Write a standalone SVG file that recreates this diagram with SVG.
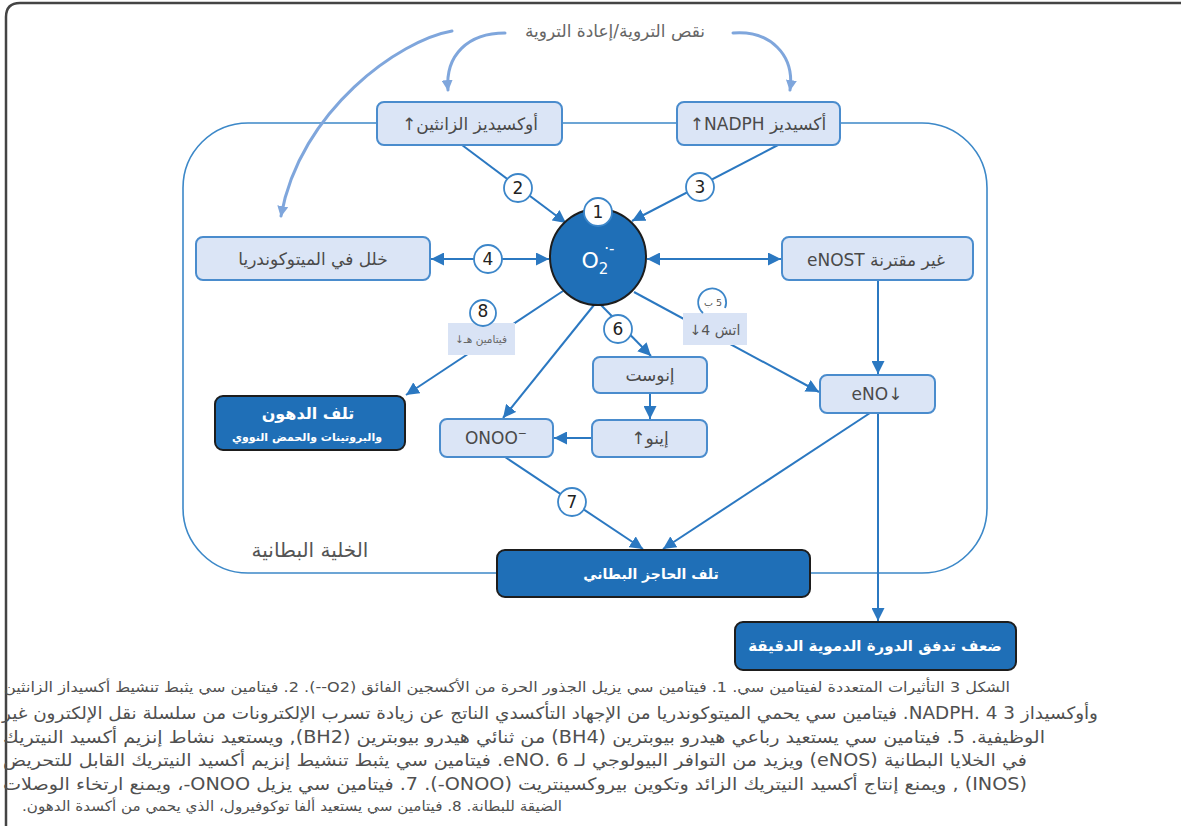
<svg xmlns="http://www.w3.org/2000/svg" width="1181" height="826" viewBox="0 0 1181 826">
<defs>
<style>
.ar{font-family:"DejaVu Sans",sans-serif;}
.lbox{fill:#dbe5f6;stroke:#4a8ccd;stroke-width:2;}
.dbox{fill:#1f6fb7;stroke:#1d1d1d;stroke-width:2;}
.ntx{font-family:"DejaVu Sans",sans-serif;font-size:17px;fill:#4a4a4a;text-anchor:middle;}
.wtx{font-family:"DejaVu Sans",sans-serif;font-weight:bold;fill:#ffffff;text-anchor:middle;}
.num{fill:#ffffff;stroke:#3c86c9;stroke-width:1.8;}
.ntxt{font-family:"DejaVu Sans",sans-serif;font-size:17px;fill:#222;text-anchor:middle;}
.con{stroke:#2b78c1;stroke-width:2;fill:none;}
.cap{font-family:"DejaVu Sans",sans-serif;fill:#505050;text-anchor:middle;}
.tag{fill:#d9e3f5;}
.curve{stroke:#7fa6dc;stroke-width:3;fill:none;stroke-linecap:round;}
</style>
<marker id="ah" viewBox="0 0 10 10" refX="10" refY="5" markerWidth="13" markerHeight="13" markerUnits="userSpaceOnUse" orient="auto-start-reverse">
<path d="M0,0 L10,5 L0,10 z" fill="#2b78c1"/>
</marker>
<marker id="ahl" viewBox="0 0 10 10" refX="9" refY="5" markerWidth="11" markerHeight="11" markerUnits="userSpaceOnUse" orient="auto">
<path d="M0,0 L10,5 L0,10 z" fill="#7fa6dc"/>
</marker>
</defs>
<rect x="0" y="0" width="1181" height="826" fill="#ffffff"/>
<path d="M1181,3 H20 Q6,3 6,17 V826" fill="none" stroke="#444" stroke-width="2.5"/>

<!-- cell boundary -->
<rect x="183" y="123" width="804" height="450" rx="65" fill="none" stroke="#3c88c8" stroke-width="1.6"/>
<text class="ar" x="310" y="557" font-size="20" fill="#555" text-anchor="middle" direction="rtl">الخلية البطانية</text>

<!-- top label and curves -->
<text class="ar" x="615" y="37" font-size="17" fill="#666" text-anchor="middle" direction="rtl">نقص التروية/إعادة التروية</text>
<g id="curves">
<path class="curve" d="M452,31 C400,40 300,110 281,216" marker-end="url(#ahl)"/>
<path class="curve" d="M505,33 C468,33 445,55 448,90" marker-end="url(#ahl)"/>
<path class="curve" d="M733,33 C770,30 795,55 790,90" marker-end="url(#ahl)"/>
</g>

<!-- connectors -->
<g id="connectors">
<line class="con" x1="462" y1="145" x2="566" y2="223" marker-end="url(#ah)"/>
<line class="con" x1="778" y1="145" x2="632" y2="221" marker-end="url(#ah)"/>
<line class="con" x1="431" y1="259" x2="549" y2="259" marker-start="url(#ah)" marker-end="url(#ah)"/>
<line class="con" x1="647" y1="259" x2="781" y2="259" marker-start="url(#ah)" marker-end="url(#ah)"/>
<line class="con" x1="878" y1="280" x2="878" y2="374" marker-end="url(#ah)"/>
<line class="con" x1="634" y1="292" x2="819" y2="392" marker-end="url(#ah)"/>
<line class="con" x1="563" y1="291" x2="406" y2="395" marker-end="url(#ah)"/>
<line class="con" x1="600" y1="304" x2="651" y2="356" marker-end="url(#ah)"/>
<line class="con" x1="594" y1="305" x2="503" y2="418" marker-end="url(#ah)"/>
<line class="con" x1="650" y1="393" x2="650" y2="419" marker-end="url(#ah)"/>
<line class="con" x1="592" y1="438" x2="554" y2="438" marker-end="url(#ah)"/>
<line class="con" x1="505" y1="457" x2="643" y2="549" marker-end="url(#ah)"/>
<line class="con" x1="870" y1="413" x2="663" y2="549" marker-end="url(#ah)"/>
<line class="con" x1="878" y1="413" x2="878" y2="621" marker-end="url(#ah)"/>
</g>

<!-- nodes -->
<g id="n-xanthine">
<rect class="lbox" x="377" y="102" width="185" height="43" rx="7"/>
<text class="ntx" x="470" y="130" direction="rtl">أوكسيديز الزانثين↑</text>
</g>
<g id="n-nadph">
<rect class="lbox" x="677" y="102" width="163" height="43" rx="7"/>
<text class="ntx" x="758" y="130" direction="rtl">أكسيديز NADPH↑</text>
</g>
<g id="n-mito">
<rect class="lbox" x="196" y="237" width="234" height="43" rx="7"/>
<text class="ntx" x="313" y="265" direction="rtl">خلل في الميتوكوندريا</text>
</g>
<g id="n-enost">
<rect class="lbox" x="782" y="237" width="191" height="43" rx="7"/>
<text class="ntx" x="876" y="266" font-size="19" direction="rtl">غير مقترنة eNOST</text>
</g>
<g id="n-eno">
<rect class="lbox" x="820" y="375" width="115" height="38" rx="7"/>
<text class="ntx" x="877" y="400">eNO↓</text>
</g>
<g id="n-inos">
<rect class="lbox" x="593" y="357" width="114" height="36" rx="7"/>
<text class="ntx" x="650" y="381" direction="rtl">إنوست</text>
</g>
<g id="n-ino">
<rect class="lbox" x="592" y="420" width="115" height="37" rx="7"/>
<text class="ntx" x="650" y="444" direction="rtl">إينو↑</text>
</g>
<g id="n-onoo">
<rect class="lbox" x="440" y="419" width="113" height="38" rx="7"/>
<text class="ntx" x="496" y="444" fill="#222">ONOO<tspan font-size="11" dy="-7">−</tspan></text>
</g>
<g id="n-lipid">
<rect class="dbox" x="215" y="396" width="190" height="54" rx="8"/>
<text class="wtx" x="308" y="419" font-size="16" direction="rtl">تلف الدهون</text>
<text class="wtx" x="307" y="441" font-size="11" direction="rtl">والبروتينات والحمض النووي</text>
</g>
<g id="n-barrier">
<rect class="dbox" x="497" y="550" width="313" height="47" rx="8"/>
<text class="wtx" x="651" y="579" font-size="14" direction="rtl">تلف الحاجز البطاني</text>
</g>
<g id="n-micro">
<rect class="dbox" x="735" y="622" width="281" height="48" rx="8"/>
<text class="wtx" x="875" y="651" font-size="15" direction="rtl">ضعف تدفق الدورة الدموية الدقيقة</text>
</g>
<g id="n-o2">
<circle cx="598" cy="257" r="48" fill="#1f6fb7" stroke="#1d1d1d" stroke-width="2"/>
<text x="598" y="268" font-family="'DejaVu Sans',sans-serif" font-size="22" fill="#ffffff" text-anchor="middle">O<tspan font-size="15" dy="6">2</tspan><tspan font-size="15" dy="-20" dx="-4">·-</tspan></text>
</g>

<!-- tags -->
<g id="tag-e">
<rect class="tag" x="448" y="323" width="67" height="32"/>
<text class="ar" x="481" y="343" font-size="10.5" fill="#666" text-anchor="middle" direction="rtl">فيتامين هـ↓</text>
</g>
<g id="tag-bh4">
<rect class="tag" x="683" y="313" width="64" height="32"/>
<text class="ar" x="715" y="335" font-size="14" fill="#555" text-anchor="middle" direction="rtl">اتش 4↓</text>
</g>

<!-- numbered circles -->
<g id="c1"><circle class="num" cx="598" cy="212" r="14"/><text class="ntxt" x="598" y="218">1</text></g>
<g id="c2"><circle class="num" cx="518" cy="188" r="14"/><text class="ntxt" x="518" y="194">2</text></g>
<g id="c3"><circle class="num" cx="700" cy="187" r="14"/><text class="ntxt" x="700" y="193">3</text></g>
<g id="c4"><circle class="num" cx="488" cy="259" r="14"/><text class="ntxt" x="488" y="265">4</text></g>
<g id="c6"><circle class="num" cx="618" cy="329" r="14"/><text class="ntxt" x="618" y="335">6</text></g>
<g id="c7"><circle class="num" cx="572" cy="502" r="14"/><text class="ntxt" x="572" y="508">7</text></g>
<g id="c8"><circle class="num" cx="483" cy="313" r="13"/><text class="ntxt" x="483" y="317" font-size="11" fill="#555">8</text></g>
<g id="c5"><path d="M703,313 A14,14 0 1,1 725,308" fill="#ffffff" stroke="#3c86c9" stroke-width="1.8"/><text class="ar" x="713" y="306" font-size="9.5" fill="#555" text-anchor="middle" direction="rtl">5 ب</text></g>

<!-- caption -->
<g id="caption">
<text class="cap" x="507" y="692" font-size="14" textLength="1006" lengthAdjust="spacingAndGlyphs" direction="rtl">الشكل 3 التأثيرات المتعددة لفيتامين سي. 1. فيتامين سي يزيل الجذور الحرة من الأكسجين الفائق (O2--). 2. فيتامين سي يثبط تنشيط أكسيداز الزانثين</text>
<text class="cap" x="550" y="719" font-size="17" textLength="1096" lengthAdjust="spacingAndGlyphs" direction="rtl">وأوكسيداز 3 4 .NADPH. فيتامين سي يحمي الميتوكوندريا من الإجهاد التأكسدي الناتج عن زيادة تسرب الإلكترونات من سلسلة نقل الإلكترون غير</text>
<text class="cap" x="524" y="743" font-size="17" textLength="1042" lengthAdjust="spacingAndGlyphs" direction="rtl">الوظيفية. 5. فيتامين سي يستعيد رباعي هيدرو بيوبترين (BH4) من ثنائي هيدرو بيوبترين (BH2), ويستعيد نشاط إنزيم أكسيد النيتريك</text>
<text class="cap" x="515" y="766" font-size="17" textLength="1024" lengthAdjust="spacingAndGlyphs" direction="rtl">في الخلايا البطانية (eNOS) ويزيد من التوافر البيولوجي لـ 6 .eNO. فيتامين سي يثبط تنشيط إنزيم أكسيد النيتريك القابل للتحريض</text>
<text class="cap" x="515" y="790" font-size="17" textLength="1024" lengthAdjust="spacingAndGlyphs" direction="rtl">(INOS) , ويمنع إنتاج أكسيد النيتريك الزائد وتكوين بيروكسينتريت (ONOO-). 7. فيتامين سي يزيل ONOO-، ويمنع ارتخاء الوصلات</text>
<text class="cap" x="292" y="811" font-size="14" textLength="540" lengthAdjust="spacingAndGlyphs" direction="rtl">الضيقة للبطانة. 8. فيتامين سي يستعيد ألفا توكوفيرول، الذي يحمي من أكسدة الدهون.</text>
</g>
</svg>
